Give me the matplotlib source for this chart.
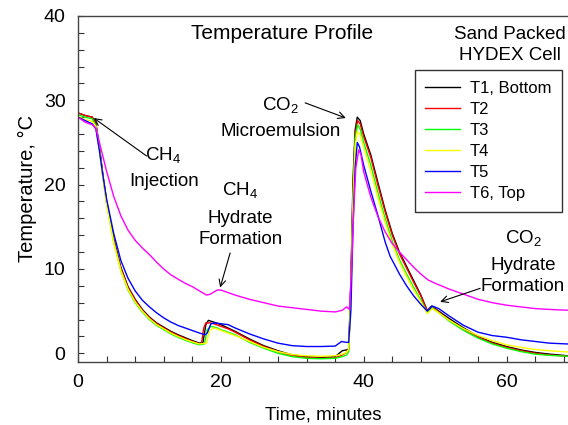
import matplotlib
matplotlib.use("Agg")
import matplotlib.pyplot as plt
from matplotlib.ticker import MultipleLocator

plt.rcParams['font.family'] = ['Liberation Sans', 'DejaVu Sans']
plt.rcParams['mathtext.fontset'] = 'custom'
plt.rcParams['mathtext.rm'] = 'Liberation Sans'
plt.rcParams['mathtext.it'] = 'Liberation Sans'
plt.rcParams['mathtext.default'] = 'regular'

# ---- data (time in minutes, temperature in degC) ----
t1_time = [0, 1, 2, 2.5, 3, 3.5, 4, 5, 6, 7, 8, 9, 10, 11, 12, 13, 14, 15, 16, 17, 17.5, 17.9, 18.25,
           19, 20, 21, 22, 24, 26, 28, 30, 32, 34, 36, 37, 37.6, 37.9, 38.2, 38.5, 38.8, 39.1, 39.5,
           40, 41, 42, 43, 44, 45, 46, 47, 48, 48.9, 49.5, 50.5, 52, 54, 56, 58, 60, 62, 64, 66, 68.6]
t1_temp = [28.5, 28.2, 28.0, 27.3, 24.5, 21.0, 18.0, 13.6, 10.2, 7.9, 6.4, 5.2, 4.3, 3.6, 3.1, 2.6, 2.2, 1.85, 1.5, 1.2, 1.3, 3.4, 3.9,
           3.7, 3.4, 3.0, 2.6, 1.7, 0.9, 0.3, -0.2, -0.4, -0.5, -0.4, 0.3, 0.4, 0.5, 8.5, 20.5, 26.5, 28.0, 27.6,
           26.0, 23.5, 20.2, 17.0, 14.2, 12.0, 10.3, 8.6, 6.9, 5.05, 5.6, 5.0, 4.1, 3.0, 2.0, 1.3, 0.8, 0.4, 0.1, -0.1, -0.3]

t2_time = [0, 1, 2, 2.5, 3, 3.5, 4, 5, 6, 7, 8, 9, 10, 11, 12, 13, 14, 15, 16, 17, 17.3, 17.6, 17.9,
           18.5, 19, 20, 21, 22, 24, 26, 28, 30, 32, 34, 36, 37, 37.6, 37.9, 38.2, 38.5, 38.8, 39.15, 39.5,
           40, 41, 42, 43, 44, 45, 46, 47, 48, 48.9, 49.6, 50.5, 52, 54, 56, 58, 60, 62, 64, 66, 68.6]
t2_temp = [28.5, 28.2, 28.0, 27.2, 24.4, 21.0, 18.0, 13.5, 10.1, 7.8, 6.3, 5.1, 4.2, 3.5, 3.0, 2.5, 2.1, 1.75, 1.4, 1.1, 1.2, 3.0, 3.6,
           3.6, 3.5, 3.2, 2.9, 2.5, 1.6, 0.8, 0.2, -0.3, -0.5, -0.6, -0.55, -0.2, 0.1, 0.4, 8.0, 19.5, 26.0, 27.6, 27.2,
           25.7, 23.2, 19.9, 16.8, 14.0, 11.8, 10.1, 8.4, 6.8, 5.0, 5.5, 4.9, 3.9, 2.8, 1.9, 1.2, 0.7, 0.3, 0.0, -0.2, -0.35]

t3_time = [0, 1, 2, 2.5, 3, 3.5, 4, 5, 6, 7, 8, 9, 10, 11, 12, 13, 14, 15, 16, 17, 17.7, 18.1, 18.6,
           19.5, 20, 21, 22, 24, 26, 28, 30, 32, 34, 36, 37, 37.6, 37.9, 38.2, 38.5, 38.8, 39.15, 39.5,
           40, 41, 42, 43, 44, 45, 46, 47, 48, 48.9, 49.6, 50.5, 52, 54, 56, 58, 60, 62, 64, 66, 68.6]
t3_temp = [28.3, 28.0, 27.8, 27.0, 24.2, 20.8, 17.8, 13.2, 9.8, 7.5, 6.0, 4.9, 4.0, 3.3, 2.8, 2.3, 1.9, 1.55, 1.25, 1.0, 1.1, 2.8, 3.2,
           3.0, 2.8, 2.5, 2.2, 1.3, 0.6, 0.0, -0.4, -0.6, -0.65, -0.6, -0.4, -0.2, 0.2, 7.0, 18.5, 25.5, 27.1, 26.6,
           25.0, 22.3, 19.0, 16.0, 13.3, 11.1, 9.4, 7.8, 6.3, 4.8, 5.4, 4.8, 3.8, 2.7, 1.8, 1.1, 0.6, 0.2, -0.1, -0.25, -0.35]

t4_time = [0, 1, 2, 2.5, 3, 3.5, 4, 5, 6, 7, 8, 9, 10, 11, 12, 13, 14, 15, 16, 17, 18.0, 18.4, 18.9,
           19.5, 20, 21, 22, 24, 26, 28, 30, 32, 34, 36, 37, 37.6, 37.9, 38.2, 38.5, 38.8, 39.1, 39.5,
           40, 41, 42, 43, 44, 45, 46, 47, 48, 48.9, 49.6, 50.5, 52, 54, 56, 58, 60, 62, 64, 66, 68.6]
t4_temp = [28.1, 27.7, 27.5, 26.9, 24.0, 20.6, 17.6, 13.1, 9.8, 7.6, 6.1, 5.0, 4.1, 3.4, 2.9, 2.4, 2.0, 1.65, 1.35, 1.1, 1.2, 2.6, 3.0,
           2.9, 2.7, 2.4, 2.1, 1.4, 0.7, 0.2, -0.15, -0.3, -0.35, -0.3, -0.1, 0.1, 0.5, 6.0, 17.5, 24.5, 26.3, 25.9,
           24.4, 21.6, 18.4, 15.5, 12.9, 10.8, 9.1, 7.5, 6.1, 4.7, 5.3, 4.8, 3.9, 2.9, 2.1, 1.5, 1.0, 0.7, 0.45, 0.3, 0.15]

t5_time = [0, 1, 2, 2.5, 3, 3.5, 4, 5, 6, 7, 8, 9, 10, 11, 12, 13, 14, 15, 16, 17, 17.8, 18.1, 18.6,
           19.2, 20, 21, 22, 24, 26, 28, 30, 32, 34, 36, 36.9, 37.5, 37.9, 38.2, 38.5, 38.8, 39.1, 39.4,
           40, 41, 42, 43, 43.7, 45, 46, 47, 48, 48.9, 49.6, 50.5, 52, 54, 56, 58, 60, 62, 64, 66, 68.6]
t5_temp = [28.0, 27.6, 27.2, 26.6, 24.0, 21.0, 18.3, 14.2, 11.0, 8.9, 7.4, 6.3, 5.5, 4.8, 4.2, 3.7, 3.3, 3.0, 2.7, 2.4, 2.2, 2.4, 3.5,
           3.6, 3.5, 3.4, 3.0, 2.3, 1.7, 1.2, 0.9, 0.8, 0.8, 0.85, 1.4, 1.3, 1.3, 5.0, 15.0, 22.0, 25.0, 24.5,
           22.3, 19.2, 16.3, 13.2, 11.5, 9.4, 8.0, 6.8, 5.8, 5.0, 5.6, 5.3, 4.4, 3.3, 2.5, 2.1, 1.9, 1.6, 1.4, 1.2, 1.1]

t6_time = [0, 1, 2, 2.5, 3, 3.5, 4, 5, 6, 7, 8, 9, 10, 11, 12, 13, 14, 15, 16, 17, 18, 18.5, 19.5,
           20, 21, 22, 24, 26, 28, 30, 32, 34, 36, 37, 37.6, 38.0, 38.3, 38.6, 38.9, 39.3, 39.6,
           40, 41, 42, 43, 44, 45, 46, 47, 48, 49, 50, 52, 54, 56, 58, 60, 62, 64, 66, 68.6]
t6_temp = [28.0, 27.4, 27.1, 26.7, 25.0, 23.3, 21.6, 18.6, 16.3, 14.6, 13.4, 12.5, 11.7, 10.8, 10.0, 9.3, 8.8, 8.3, 7.9, 7.4, 6.9, 7.0, 7.5,
           7.5, 7.2, 6.9, 6.4, 6.0, 5.6, 5.4, 5.2, 5.0, 4.9, 5.1, 5.5, 5.2, 10.0, 17.0, 22.0, 24.1, 23.6,
           21.5, 18.5, 16.2, 14.4, 13.0, 12.0, 11.1, 10.2, 9.4, 8.7, 8.3, 7.6, 7.0, 6.4, 6.0, 5.7, 5.5, 5.3, 5.2, 5.1]

series_labels = ["T1, Bottom", "T2", "T3", "T4", "T5", "T6, Top"]
series_colors = ["#000000", "#ff0000", "#00ff00", "#ffff00", "#0000ff", "#ff00ff"]
series_time = [t1_time, t2_time, t3_time, t4_time, t5_time, t6_time]
series_temp = [t1_temp, t2_temp, t3_temp, t4_temp, t5_temp, t6_temp]

# ---- figure ----
W, H = 568, 425
fig = plt.figure(figsize=(W / 100, H / 100), dpi=100)
ax = fig.add_axes([78 / W, (H - 361.7) / H, (W - 78) / W, (361.7 - 16) / H])

for tt, yy, c, lab in zip(series_time, series_temp, series_colors, series_labels):
    ax.plot(tt, yy, color=c, lw=1.0, label=lab)

ax.set_xlim(0, 68.6)
ax.set_ylim(-1, 40)
ax.xaxis.set_major_locator(MultipleLocator(20))
ax.xaxis.set_minor_locator(MultipleLocator(4))
ax.yaxis.set_major_locator(MultipleLocator(10))
ax.yaxis.set_minor_locator(MultipleLocator(2))
ax.tick_params(which='both', direction='in', length=4, width=0.8, color='#333333',
               top=False, right=False, labelsize=14, pad=9)
ax.spines['right'].set_visible(False)
for s in ['left', 'bottom', 'top']:
    ax.spines[s].set_color('#444444')
    ax.spines[s].set_linewidth(1.0)

ax.set_xlabel("Time, minutes", fontsize=13.5, labelpad=11)
ax.set_ylabel("Temperature, °C", fontsize=14.5, labelpad=5)

ax.text(28.6, 37.25, "Temperature Profile", fontsize=15, ha='center', va='baseline')
ax.text(60.4, 37.25, "Sand Packed", fontsize=13.5, ha='center', va='baseline')
ax.text(60.5, 34.8, "HYDEX Cell", fontsize=13.5, ha='center', va='baseline')

fs = 13.5
arrow = dict(arrowstyle='->', color='black', lw=0.8, shrinkA=0, shrinkB=0, mutation_scale=12)

ax.text(11.9, 22.93, "CH$_4$", fontsize=fs, ha='center', va='baseline')
ax.text(12.0, 19.85, "Injection", fontsize=fs, ha='center', va='baseline')
ax.annotate("", xy=(2.2, 27.9), xytext=(9.6, 23.4), arrowprops=arrow)

ax.text(22.7, 18.78, "CH$_4$", fontsize=fs, ha='center', va='baseline')
ax.text(22.7, 15.5, "Hydrate", fontsize=fs, ha='center', va='baseline')
ax.text(22.7, 12.97, "Formation", fontsize=fs, ha='center', va='baseline')
ax.annotate("", xy=(19.9, 7.8), xytext=(21.3, 11.9), arrowprops=arrow)

ax.text(28.4, 28.86, "CO$_2$", fontsize=fs, ha='center', va='baseline')
ax.text(28.4, 25.78, "Microemulsion", fontsize=fs, ha='center', va='baseline')
ax.annotate("", xy=(37.5, 27.9), xytext=(31.8, 29.7), arrowprops=arrow)

ax.text(62.3, 13.1, "CO$_2$", fontsize=fs, ha='center', va='baseline')
ax.text(62.3, 9.88, "Hydrate", fontsize=fs, ha='center', va='baseline')
ax.text(62.3, 7.43, "Formation", fontsize=fs, ha='center', va='baseline')
ax.annotate("", xy=(50.7, 6.1), xytext=(56.3, 7.7), arrowprops=arrow)

leg = ax.legend(loc='upper right', bbox_to_anchor=(562 / W, (H - 70) / H),
                bbox_transform=fig.transFigure, fontsize=12, frameon=True, fancybox=False,
                edgecolor='#333333', framealpha=1, labelspacing=0.36, handlelength=2.1,
                handletextpad=0.55, borderpad=0.65, borderaxespad=0)
leg.get_frame().set_linewidth(1.0)

fig.savefig("out.png", dpi=100)
